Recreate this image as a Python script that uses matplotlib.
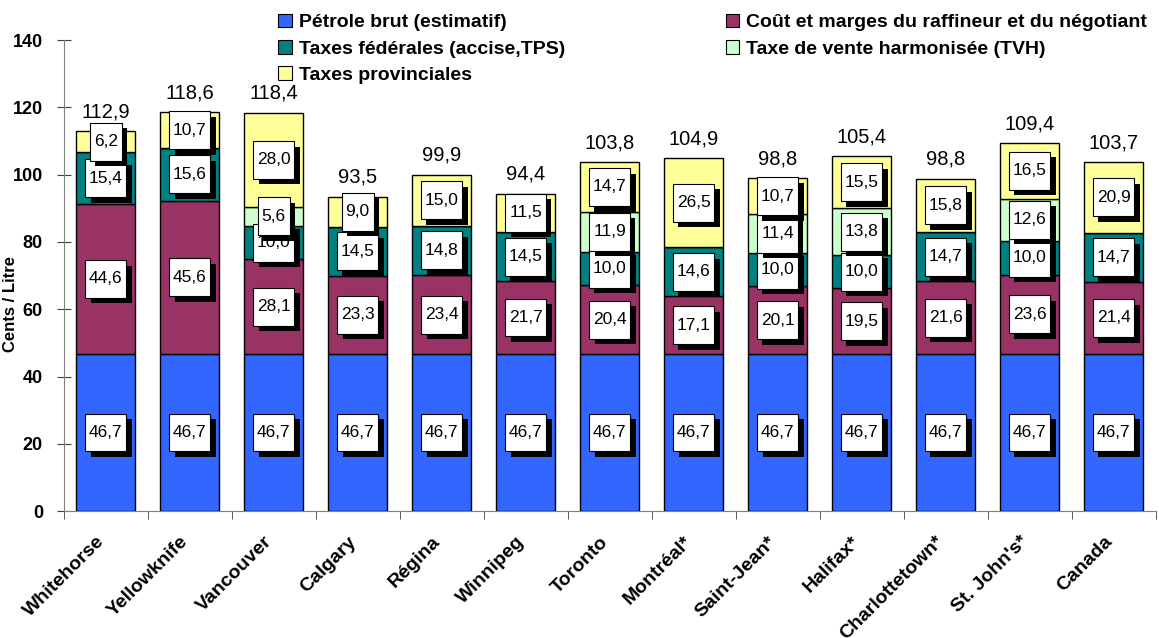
import matplotlib.pyplot as plt
import matplotlib.patheffects as pe
import matplotlib.transforms as mtrans
from matplotlib.patches import Patch
import numpy as np

plt.rcParams['font.family'] = ['Liberation Sans', 'DejaVu Sans']

villes = ['Whitehorse', 'Yellowknife', 'Vancouver', 'Calgary', 'Régina', 'Winnipeg',
          'Toronto', 'Montréal*', 'Saint-Jean*', 'Halifax*', 'Charlottetown*',
          "St. John's*", 'Canada']

petrole = [46.7, 46.7, 46.7, 46.7, 46.7, 46.7, 46.7, 46.7, 46.7, 46.7, 46.7, 46.7, 46.7]
marges = [44.6, 45.6, 28.1, 23.3, 23.4, 21.7, 20.4, 17.1, 20.1, 19.5, 21.6, 23.6, 21.4]
federales = [15.4, 15.6, 10.0, 14.5, 14.8, 14.5, 10.0, 14.6, 10.0, 10.0, 14.7, 10.0, 14.7]
tvh = [0, 0, 5.6, 0, 0, 0, 11.9, 0, 11.4, 13.8, 0, 12.6, 0]
provinciales = [6.2, 10.7, 28.0, 9.0, 15.0, 11.5, 14.7, 26.5, 10.7, 15.5, 15.8, 16.5, 20.9]
totaux = [112.9, 118.6, 118.4, 93.5, 99.9, 94.4, 103.8, 104.9, 98.8, 105.4, 98.8, 109.4, 103.7]

series = [
    ('Pétrole brut (estimatif)', petrole, '#3366FF'),
    ('Coût et marges du raffineur et du négotiant', marges, '#993366'),
    ('Taxes fédérales (accise,TPS)', federales, '#008080'),
    ('Taxe de vente harmonisée (TVH)', tvh, '#CCFFCC'),
    ('Taxes provinciales', provinciales, '#FFFF99'),
]

fig = plt.figure(figsize=(11.59, 6.38), dpi=100)
ax = fig.add_axes([0.055, 0.199, 0.942, 0.738])

x = np.arange(len(villes))
width = 0.7
bottom = np.zeros(len(villes))
for name, vals, col in series:
    vals = np.array(vals)
    ax.bar(x, vals, width, bottom=bottom, color=col, edgecolor='black', linewidth=1, zorder=2)
    for i, v in enumerate(vals):
        if v <= 0:
            continue
        t = ax.text(x[i], bottom[i] + v / 2, ('%.1f' % v).replace('.', ','),
                    ha='center', va='center', fontsize=12.5, zorder=5,
                    bbox=dict(boxstyle='square,pad=0.22', mutation_aspect=3.0,
                              fc='white', ec='black', lw=0.8))
        t.get_bbox_patch().set_path_effects([
            pe.SimplePatchShadow(offset=(4, -4), shadow_rgbFace='black', alpha=1.0),
            pe.Normal()])
    bottom += vals

for i, tot in enumerate(totaux):
    ax.text(x[i], bottom[i] + 3, ('%.1f' % tot).replace('.', ','),
            ha='center', va='bottom', fontsize=14.5)

ax.set_xlim(-0.5, len(villes) - 0.5)
ax.set_ylim(0, 140)
ax.set_yticks(np.arange(0, 141, 20))
ax.set_yticklabels([str(v) for v in range(0, 141, 20)], fontsize=13, fontweight='bold')
ax.set_ylabel('Cents / Litre', fontsize=12, fontweight='bold')
ax.yaxis.set_label_coords(-0.042, 0.44)

ax.set_xticks(x)
ax.set_xticklabels(villes, rotation=45, ha='right', rotation_mode='anchor',
                   fontsize=14, fontweight='bold')
ax.tick_params(axis='x', which='major', length=0, pad=16)
shift = mtrans.ScaledTranslation(-0.1, 0, fig.dpi_scale_trans)
for lab in ax.get_xticklabels():
    lab.set_transform(lab.get_transform() + shift)
ax.set_xticks(np.arange(-0.5, len(villes), 1), minor=True)
ax.tick_params(axis='x', which='minor', length=6, direction='out', color='#404040')
ax.tick_params(axis='y', direction='inout', length=10, color='#404040', pad=10)

for s in ['top', 'right']:
    ax.spines[s].set_visible(False)
for s in ['left', 'bottom']:
    ax.spines[s].set_color('#808080')

handles = [Patch(facecolor=c, edgecolor='black', lw=0.8) for _, _, c in series]
names = [n for n, _, _ in series]
leg_kw = dict(loc='upper left', frameon=False, handlelength=0.7, handleheight=0.7,
              handletextpad=0.35, labelspacing=0.45, prop={'weight': 'bold', 'size': 14})
fig.legend([handles[0], handles[2], handles[4]], [names[0], names[2], names[4]],
           bbox_to_anchor=(0.225, 1.006), **leg_kw)
fig.legend([handles[1], handles[3]], [names[1], names[3]],
           bbox_to_anchor=(0.611, 1.006), **leg_kw)

fig.savefig('out.png', dpi=100)
